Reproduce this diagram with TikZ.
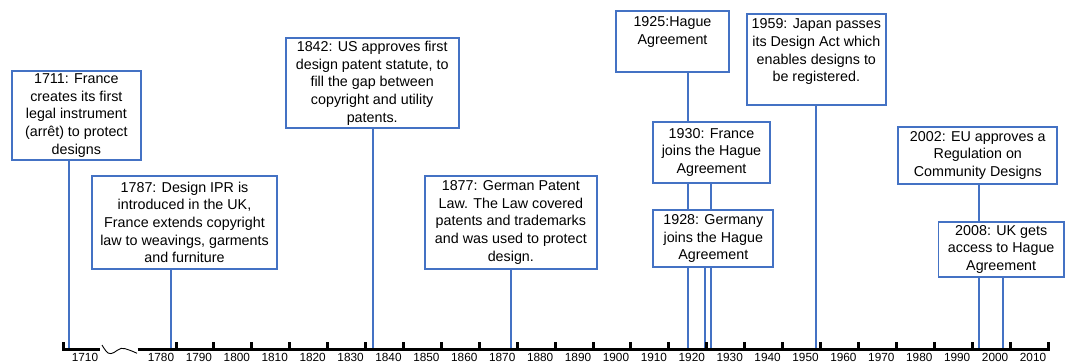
\documentclass[tikz,border=0pt]{standalone}
\usepackage{fontspec}
\setmainfont{Liberation Sans}
\usetikzlibrary{backgrounds}
\definecolor{boxblue}{RGB}{68,114,196}
\begin{document}
\begin{tikzpicture}[x=1pt,y=-1pt,
  evbox/.style={draw=boxblue,line width=1.7pt,fill=white,inner sep=0pt,align=center,
    font=\fontsize{14.3}{17.7}\selectfont},
  conn/.style={draw=boxblue,line width=2pt},
  axisline/.style={line width=3pt,black},
  tickmark/.style={line width=3pt,black},
  ticklbl/.style={font=\fontsize{11.8}{13}\selectfont,inner sep=0pt}]
\useasboundingbox (0,0) rectangle (1066,363);

% axis anchor coordinates for connectors
\coordinate (a1711) at (69.3,350);
\coordinate (a1787) at (171,350);
\coordinate (a1842) at (372.5,350);
\coordinate (a1877) at (510.5,350);
\coordinate (a1925) at (688,350);
\coordinate (a1928) at (704.5,350);
\coordinate (a1930) at (711,350);
\coordinate (a1959) at (816.3,350);
\coordinate (a2002) at (978.5,350);
\coordinate (a2008) at (1003,350);

% event boxes
\path
 (76.35,115.35) node[evbox,minimum width=128.7,minimum height=89.3] (b1711)
   {1711: France\\creates its first\\legal instrument\\(arrêt) to protect\\designs}
 (184.5,222.35) node[evbox,minimum width=184.4,minimum height=93.3] (b1787)
   {1787: Design IPR is\\introduced in the UK,\\France extends copyright\\law to weavings, garments\\and furniture}
 (372.2,83.15) node[evbox,minimum width=173,minimum height=90.3] (b1842)
   {1842: US approves first\\design patent statute, to\\fill the gap between\\copyright and utility\\patents.}
 (510.85,222.35) node[evbox,minimum width=171.7,minimum height=93.3] (b1877)
   {1877: German Patent\\Law. The Law covered\\patents and trademarks\\and was used to protect\\design.}
 (672.5,41.65) node[evbox,minimum width=113,minimum height=60.7] (b1925)
   {1925:Hague\\Agreement\\[4.7pt]\mbox{}}
 (711.5,152.2) node[evbox,minimum width=116.4,minimum height=61] (b1930)
   {1930: France\\joins the Hague\\Agreement}
 (713.3,238.65) node[evbox,minimum width=120,minimum height=57.3] (b1928)
   {1928: Germany\\joins the Hague\\Agreement}
 (816.35,59.65) node[evbox,minimum width=138.7,minimum height=91.3] (b1959)
   {1959: Japan passes\\its Design Act which\\enables designs to\\be registered.\\[0.7pt]\mbox{}}
 (977.8,155.2) node[evbox,minimum width=159,minimum height=57] (b2002)
   {2002: EU approves a\\Regulation on\\Community Designs}
 (1001.2,249.2) node[evbox,minimum width=125.7,minimum height=55] (b2008)
   {2008: UK gets\\access to Hague\\Agreement};

\begin{scope}[on background layer]
% connectors
\foreach \e in {1711,1787,1842,1877,1925,1928,1930,1959,2002,2008}
  \draw[conn] (a\e |- b\e.south) -- (a\e);
% axis: first short segment with break
\draw[axisline] (63.3,342.5) -- (63.3,350) -- (100,350);
\draw[line width=0.9pt,black] plot[smooth,tension=0.7] coordinates
  {(102,345) (108,353) (114,352.5) (121,348.4) (129,350) (137,353.3)};
\draw[axisline] (137.5,350) -- (1049.5,350);
\foreach \k in {0,...,23}
  \draw[tickmark] ({176+37.913*\k},350) -- ({176+37.913*\k},342.5);
\end{scope}

% axis labels
\node[ticklbl] (l1710) at (85,357.6) {1710};
\foreach \k [evaluate=\k as \yr using int(1780+10*\k)] in {0,...,23}
  \node[ticklbl] (l\k) at ({161+37.913*\k},357.6) {\yr};
\end{tikzpicture}
\end{document}
